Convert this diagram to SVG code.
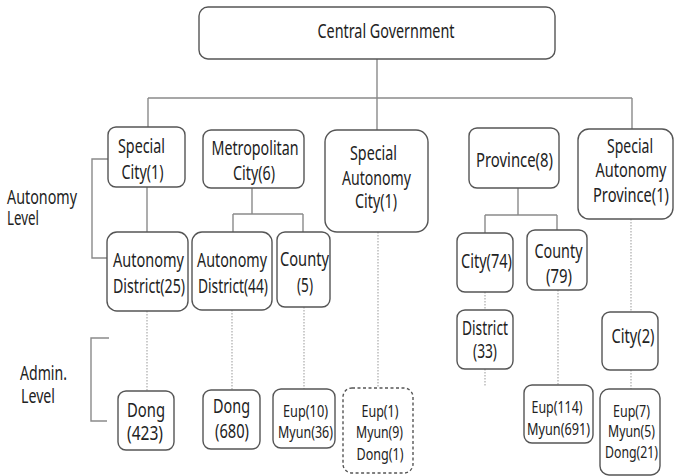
<svg xmlns="http://www.w3.org/2000/svg" width="674" height="476" viewBox="0 0 674 476">
<style>
  .box{fill:#fff;stroke:#555;stroke-width:1.4}
  .dash{fill:#fff;stroke:#555;stroke-width:1.4;stroke-dasharray:3,2.5}
  .ln{stroke:#8a8a8a;stroke-width:1.4;fill:none}
  .dot{stroke:#aaa;stroke-width:1.2;fill:none;stroke-dasharray:1.5,1.5}
  text{font-family:"Noto Sans","Liberation Sans",sans-serif;fill:#222;font-size:19px;text-anchor:middle}
  .s{font-size:16px}
  .l{text-anchor:start}
</style>
<rect width="674" height="476" fill="#fff"/>
<g id="connectors">
  <path class="ln" d="M377,59 V130 M148,98 H632 M148,98 V127 M632,98 V129"/>
  <path class="ln" d="M147,187 V232"/>
  <path class="ln" d="M252,188 V214 M233,214 H303 M233,214 V232 M303,214 V232"/>
  <path class="ln" d="M518,188 V215 M485,215 H557 M485,215 V233 M557,215 V230"/>
  <path class="dot" d="M147,311 V391 M232,310 V390 M304,307 V389 M378,232 V388 M485,292 V310 M485,369 V386 M558,290 V385 M631,219 V312 M631,370 V389"/>
  <path class="ln" d="M108,159 H92 V258 H107"/>
  <path class="ln" d="M109,338 H91 V421 H107"/>
</g>
<g id="central"><rect class="box" x="199" y="7" width="356" height="52" rx="9"/><text x="386" y="38" textLength="137" lengthAdjust="spacingAndGlyphs">Central Government</text></g>
<g id="special-city"><rect class="box" x="108" y="127" width="77" height="60" rx="8"/><text x="141.5" y="153" textLength="47" lengthAdjust="spacingAndGlyphs">Special</text><text x="142.5" y="179" textLength="42" lengthAdjust="spacingAndGlyphs">City(1)</text></g>
<g id="metro-city"><rect class="box" x="203" y="130" width="101" height="58" rx="8"/><text x="255" y="155" textLength="87" lengthAdjust="spacingAndGlyphs">Metropolitan</text><text x="254" y="180" textLength="42" lengthAdjust="spacingAndGlyphs">City(6)</text></g>
<g id="special-autonomy-city"><rect class="box" x="325" y="130" width="103" height="102" rx="12"/><text x="373.5" y="160" textLength="47" lengthAdjust="spacingAndGlyphs">Special</text><text x="376.5" y="185" textLength="69" lengthAdjust="spacingAndGlyphs">Autonomy</text><text x="376" y="208" textLength="42" lengthAdjust="spacingAndGlyphs">City(1)</text></g>
<g id="province"><rect class="box" x="469" y="128" width="90" height="60" rx="8"/><text x="514.5" y="167" textLength="77" lengthAdjust="spacingAndGlyphs">Province(8)</text></g>
<g id="special-autonomy-province"><rect class="box" x="578" y="129" width="95" height="90" rx="11"/><text x="630" y="153" textLength="46" lengthAdjust="spacingAndGlyphs">Special</text><text x="631" y="177" textLength="71" lengthAdjust="spacingAndGlyphs">Autonomy</text><text x="631" y="202" textLength="76" lengthAdjust="spacingAndGlyphs">Province(1)</text></g>
<g id="autonomy-district-25"><rect class="box" x="107" y="232" width="81" height="79" rx="10"/><text x="148.5" y="267" textLength="71" lengthAdjust="spacingAndGlyphs">Autonomy</text><text x="149" y="293" textLength="72" lengthAdjust="spacingAndGlyphs">District(25)</text></g>
<g id="autonomy-district-44"><rect class="box" x="192" y="232" width="80" height="78" rx="10"/><text x="232" y="267" textLength="70" lengthAdjust="spacingAndGlyphs">Autonomy</text><text x="233" y="293" textLength="70" lengthAdjust="spacingAndGlyphs">District(44)</text></g>
<g id="county-5"><rect class="box" x="277" y="232" width="53" height="75" rx="8"/><text x="304.5" y="266" textLength="49" lengthAdjust="spacingAndGlyphs">County</text><text x="305" y="292" textLength="16" lengthAdjust="spacingAndGlyphs">(5)</text></g>
<g id="city-74"><rect class="box" x="457" y="233" width="56" height="59" rx="8"/><text x="486.5" y="268" textLength="51" lengthAdjust="spacingAndGlyphs">City(74)</text></g>
<g id="county-79"><rect class="box" x="527" y="230" width="60" height="60" rx="8"/><text x="558.5" y="258" textLength="48" lengthAdjust="spacingAndGlyphs">County</text><text x="559" y="283" textLength="26" lengthAdjust="spacingAndGlyphs">(79)</text></g>
<g id="district-33"><rect class="box" x="457" y="310" width="56" height="59" rx="8"/><text x="485" y="335" textLength="46" lengthAdjust="spacingAndGlyphs">District</text><text x="485" y="358" textLength="24" lengthAdjust="spacingAndGlyphs">(33)</text></g>
<g id="city-2"><rect class="box" x="602" y="312" width="56" height="58" rx="8"/><text x="633" y="343" textLength="43" lengthAdjust="spacingAndGlyphs">City(2)</text></g>
<g id="dong-423"><rect class="box" x="118" y="391" width="56" height="59" rx="8"/><text x="146" y="417" textLength="38" lengthAdjust="spacingAndGlyphs">Dong</text><text x="145" y="440" textLength="36" lengthAdjust="spacingAndGlyphs">(423)</text></g>
<g id="dong-680"><rect class="box" x="203" y="390" width="57" height="59" rx="8"/><text x="231.5" y="413" textLength="37" lengthAdjust="spacingAndGlyphs">Dong</text><text x="232" y="438" textLength="34" lengthAdjust="spacingAndGlyphs">(680)</text></g>
<g id="eup-myun-county"><rect class="box" x="273" y="389" width="62" height="59" rx="8"/><text class="s" x="305.5" y="417" textLength="45" lengthAdjust="spacingAndGlyphs">Eup(10)</text><text class="s" x="305.5" y="438" textLength="55" lengthAdjust="spacingAndGlyphs">Myun(36)</text></g>
<g id="sac-admin"><rect class="dash" x="343" y="388" width="70" height="85" rx="9"/><text class="s" x="380" y="417" textLength="37" lengthAdjust="spacingAndGlyphs">Eup(1)</text><text class="s" x="379.5" y="438" textLength="47" lengthAdjust="spacingAndGlyphs">Myun(9)</text><text class="s" x="380" y="460" textLength="47" lengthAdjust="spacingAndGlyphs">Dong(1)</text></g>
<g id="eup-myun-province"><rect class="box" x="524" y="385" width="69" height="58" rx="8"/><text class="s" x="557" y="413" textLength="51" lengthAdjust="spacingAndGlyphs">Eup(114)</text><text class="s" x="558.5" y="435" textLength="63" lengthAdjust="spacingAndGlyphs">Myun(691)</text></g>
<g id="sap-admin"><rect class="box" x="600" y="389" width="60" height="86" rx="9"/><text class="s" x="631.5" y="417" textLength="37" lengthAdjust="spacingAndGlyphs">Eup(7)</text><text class="s" x="631.5" y="437" textLength="47" lengthAdjust="spacingAndGlyphs">Myun(5)</text><text class="s" x="631.5" y="458" textLength="53" lengthAdjust="spacingAndGlyphs">Dong(21)</text></g>
<g id="autonomy-level-label"><text class="l" x="7" y="204" textLength="70" lengthAdjust="spacingAndGlyphs">Autonomy</text><text class="l" x="7" y="225" textLength="32" lengthAdjust="spacingAndGlyphs">Level</text></g>
<g id="admin-level-label"><text class="l" x="20" y="380" textLength="47" lengthAdjust="spacingAndGlyphs">Admin.</text><text class="l" x="21" y="403" textLength="34" lengthAdjust="spacingAndGlyphs">Level</text></g>
</svg>
